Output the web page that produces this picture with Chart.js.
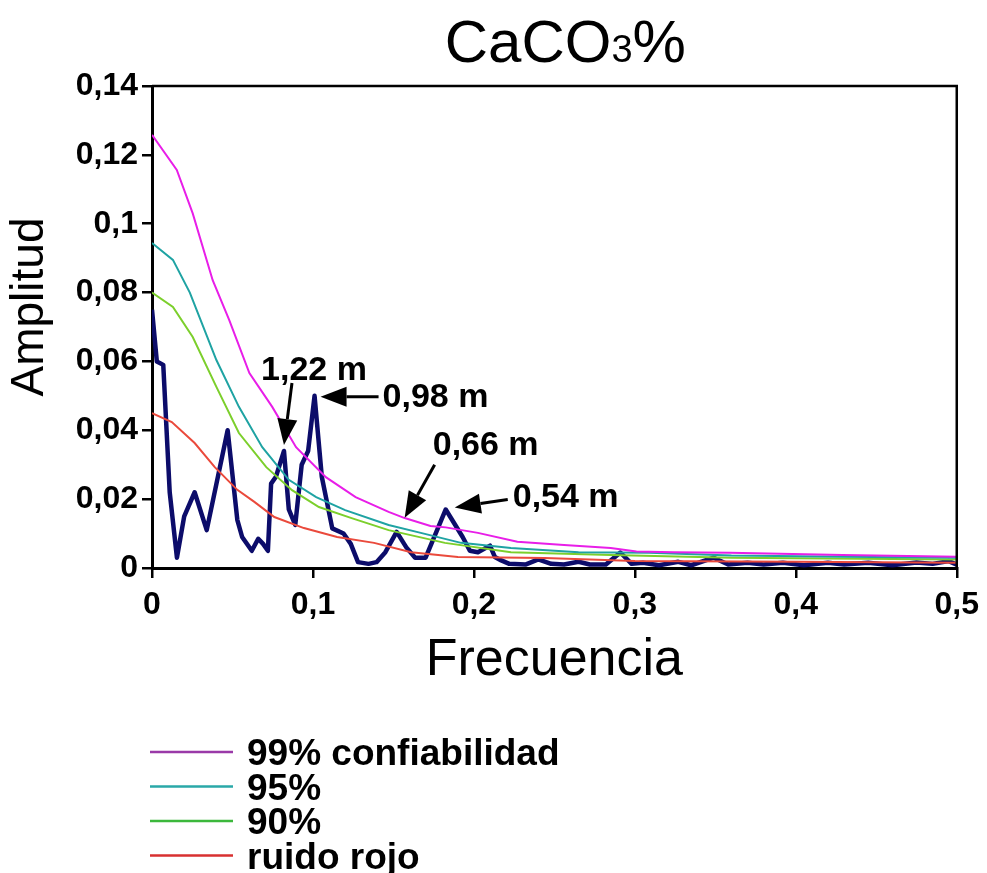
<!DOCTYPE html>
<html>
<head>
<meta charset="utf-8">
<script src="https://cdn.jsdelivr.net/npm/chart.js@4.4.1/dist/chart.umd.min.js"></script>
<style>
  html, body { margin: 0; padding: 0; background: #fff; }
  #wrap { width: 987px; height: 873px; }
</style>
</head>
<body>
<div id="wrap"><canvas id="specChart" width="987" height="873"></canvas></div>
<script>
// spectrum of CaCO3 %
const mainFreq = [0, 0.003, 0.007, 0.011, 0.0155, 0.020, 0.0265, 0.034, 0.047, 0.053, 0.056, 0.062,
  0.066, 0.069, 0.072, 0.074, 0.077, 0.082, 0.085, 0.089, 0.093, 0.097, 0.101, 0.1055, 0.112,
  0.119, 0.1235, 0.128, 0.1345, 0.1395, 0.145, 0.152, 0.158, 0.1635, 0.170, 0.1825, 0.193,
  0.1975, 0.2025, 0.210, 0.213, 0.217, 0.222, 0.232, 0.240, 0.248, 0.256, 0.265, 0.272, 0.282,
  0.291, 0.298, 0.305, 0.315, 0.327, 0.335, 0.349, 0.358, 0.370, 0.380, 0.392, 0.405, 0.420,
  0.430, 0.445, 0.460, 0.475, 0.485, 0.495, 0.500];
const mainAmp = [0.075, 0.060, 0.059, 0.022, 0.003, 0.015, 0.022, 0.011, 0.040, 0.014, 0.009, 0.005,
  0.0085, 0.007, 0.005, 0.0245, 0.0265, 0.034, 0.017, 0.0125, 0.030, 0.034, 0.050, 0.0265, 0.0115,
  0.010, 0.007, 0.0017, 0.0012, 0.0017, 0.0046, 0.0105, 0.006, 0.003, 0.003, 0.017, 0.009,
  0.005, 0.0046, 0.0065, 0.0032, 0.0022, 0.0012, 0.0010, 0.0025, 0.0012, 0.0010, 0.0018, 0.0010, 0.0010,
  0.0045, 0.0012, 0.0015, 0.0008, 0.0018, 0.0008, 0.0030, 0.0010, 0.0015, 0.0010, 0.0015, 0.0008, 0.0015,
  0.0010, 0.0015, 0.0008, 0.0016, 0.0012, 0.0020, 0.0010];

// confidence levels and red noise
const c99Freq = [0, 0.0154, 0.0253, 0.0377, 0.048, 0.0605, 0.0747, 0.0895, 0.108, 0.1265, 0.147, 0.157,
  0.173, 0.1825, 0.2025, 0.227, 0.256, 0.285, 0.301, 0.324, 0.359, 0.429, 0.5];
const c99Amp = [0.1258, 0.1156, 0.103, 0.0836, 0.072, 0.0566, 0.0468, 0.0351, 0.0264, 0.0206, 0.0163, 0.0145,
  0.0122, 0.0118, 0.0102, 0.0076, 0.0067, 0.0058, 0.0048, 0.0046, 0.0044, 0.0038, 0.0033];
const c95Freq = [0, 0.013, 0.0235, 0.040, 0.054, 0.0685, 0.085, 0.102, 0.120, 0.147, 0.167, 0.192,
  0.223, 0.265, 0.309, 0.36, 0.43, 0.5];
const c95Amp = [0.0944, 0.0895, 0.080, 0.0604, 0.0468, 0.0351, 0.0256, 0.0206, 0.0168, 0.0125, 0.0102, 0.0073,
  0.0058, 0.0046, 0.0044, 0.0036, 0.0033, 0.0030];
const c90Freq = [0, 0.013, 0.0253, 0.040, 0.054, 0.071, 0.087, 0.1037, 0.124, 0.147, 0.182, 0.223,
  0.285, 0.36, 0.5];
const c90Amp = [0.080, 0.0758, 0.0671, 0.0526, 0.0392, 0.0293, 0.0226, 0.0177, 0.0145, 0.011, 0.0073, 0.0046,
  0.0038, 0.0030, 0.0025];
const redFreq = [0, 0.0123, 0.0265, 0.039, 0.053, 0.0636, 0.076, 0.0944, 0.115, 0.138, 0.161, 0.190,
  0.244, 0.3, 0.4, 0.5];
const redAmp = [0.045, 0.0424, 0.0363, 0.0293, 0.0227, 0.0192, 0.0148, 0.0116, 0.009, 0.0073, 0.0046, 0.0032,
  0.0029, 0.0020, 0.0018, 0.0015];

const xTickLabels = ['0', '0,1', '0,2', '0,3', '0,4', '0,5'];
const yTickLabels = ['0', '0,02', '0,04', '0,06', '0,08', '0,1', '0,12', '0,14'];

// labelled peaks (periods in metres)
const peakLabels = ['1,22 m', '0,98 m', '0,66 m', '0,54 m'];
const peakFreq = [0.082, 0.101, 0.152, 0.1825];

const legendLabels = ['99% confiabilidad', '95%', '90%', 'ruido rojo'];
const legendColors = ['#9a3aa8', '#2aa8a8', '#3cb83c', '#d83030'];

const FONT = "'Liberation Sans', Arial, sans-serif";

function pts(xs, ys) {
  return xs.map((x, i) => ({ x: x, y: ys[i] }));
}

function drawArrow(ctx, x0, y0, x1, y1) {
  const ang = Math.atan2(y1 - y0, x1 - x0);
  const headLen = 26, headHalf = 10;
  const bx = x1 - headLen * Math.cos(ang);
  const by = y1 - headLen * Math.sin(ang);
  ctx.beginPath();
  ctx.moveTo(x0, y0);
  ctx.lineTo(bx, by);
  ctx.lineWidth = 3;
  ctx.stroke();
  ctx.beginPath();
  ctx.moveTo(x1, y1);
  ctx.lineTo(bx + headHalf * Math.sin(ang), by - headHalf * Math.cos(ang));
  ctx.lineTo(bx - headHalf * Math.sin(ang), by + headHalf * Math.cos(ang));
  ctx.closePath();
  ctx.fill();
}

// tip / tail / text offsets (px) from each peak
const peakLayout = [
  { tip: [0, -6], tail: [8, -68], text: [30, -80], align: 'center' },
  { tip: [6, 1], tail: [64, 1], text: [68, 2], align: 'left' },
  { tip: [8, -14], tail: [38, -67], text: [89, -86], align: 'center' },
  { tip: [9, -2], tail: [62, -10], text: [67, -12], align: 'left' }
];

const decorPlugin = {
  id: 'decor',
  afterDraw(chart) {
    const ctx = chart.ctx;
    const a = chart.chartArea;
    const xs = chart.scales.x, ys = chart.scales.y;
    ctx.save();

    // top and right frame
    ctx.strokeStyle = '#000';
    ctx.lineWidth = 2.5;
    ctx.beginPath();
    ctx.moveTo(a.left, a.top);
    ctx.lineTo(a.right, a.top);
    ctx.lineTo(a.right, a.bottom);
    ctx.stroke();

    // title with a small "3"
    ctx.fillStyle = '#000';
    ctx.textBaseline = 'alphabetic';
    ctx.textAlign = 'left';
    const big = '60px ' + FONT, small = '38px ' + FONT;
    ctx.font = big;
    const w1 = ctx.measureText('CaCO').width, w3 = ctx.measureText('%').width;
    ctx.font = small;
    const w2 = ctx.measureText('3').width;
    let tx = (a.left + a.right) / 2 + 11 - (w1 + w2 + w3) / 2;
    const ty = 62;
    ctx.font = big;
    ctx.fillText('CaCO', tx, ty);
    ctx.font = small;
    ctx.fillText('3', tx + w1, ty);
    ctx.font = big;
    ctx.fillText('%', tx + w1 + w2, ty);

    // y axis title, a little above the axis centre
    ctx.save();
    ctx.translate(30, (a.top + a.bottom) / 2 - 20);
    ctx.rotate(-Math.PI / 2);
    ctx.font = '46px ' + FONT;
    ctx.textAlign = 'center';
    ctx.textBaseline = 'middle';
    ctx.fillText('Amplitud', 0, 0);
    ctx.restore();

    // peak arrows
    ctx.fillStyle = '#000';
    ctx.strokeStyle = '#000';
    ctx.font = 'bold 34px ' + FONT;
    ctx.textBaseline = 'middle';
    peakLabels.forEach((lab, i) => {
      const k = mainFreq.indexOf(peakFreq[i]);
      const px = xs.getPixelForValue(mainFreq[k]);
      const py = ys.getPixelForValue(mainAmp[k]);
      const L = peakLayout[i];
      drawArrow(ctx, px + L.tail[0], py + L.tail[1], px + L.tip[0], py + L.tip[1]);
      ctx.textAlign = L.align;
      ctx.fillText(lab, px + L.text[0], py + L.text[1]);
    });

    // legend
    ctx.font = 'bold 37px ' + FONT;
    ctx.textAlign = 'left';
    ctx.textBaseline = 'middle';
    legendLabels.forEach((lab, i) => {
      const ly = 752 + i * 34.5;
      ctx.strokeStyle = legendColors[i];
      ctx.lineWidth = 2.5;
      ctx.beginPath();
      ctx.moveTo(150, ly);
      ctx.lineTo(233, ly);
      ctx.stroke();
      ctx.fillStyle = '#000';
      ctx.fillText(lab, 247, ly + 3);
    });
    ctx.restore();
  }
};

const ctx = document.getElementById('specChart').getContext('2d');
const specChart = new Chart(ctx, {
  type: 'line',
  data: {
    datasets: [
      { label: '99%', data: pts(c99Freq, c99Amp), borderColor: '#e81ee8', borderWidth: 2 },
      { label: '95%', data: pts(c95Freq, c95Amp), borderColor: '#1fa3a3', borderWidth: 2 },
      { label: '90%', data: pts(c90Freq, c90Amp), borderColor: '#7ccf2c', borderWidth: 2 },
      { label: 'ruido rojo', data: pts(redFreq, redAmp), borderColor: '#ea4a3c', borderWidth: 2 },
      { label: 'CaCO3%', data: pts(mainFreq, mainAmp), borderColor: '#0c0c6a', borderWidth: 4.5,
        borderJoinStyle: 'round' }
    ]
  },
  options: {
    responsive: false,
    devicePixelRatio: 1,
    animation: false,
    layout: { padding: { top: 86, right: 25, bottom: 173, left: 0 } },
    elements: { point: { radius: 0 }, line: { tension: 0, fill: false } },
    plugins: {
      legend: { display: false },
      tooltip: { enabled: false },
      title: { display: false }
    },
    scales: {
      x: {
        type: 'linear',
        min: 0,
        max: 0.5,
        afterFit: function(scale) { scale.height = 132; },
        border: { display: true, color: '#000', width: 3 },
        grid: { drawOnChartArea: false, color: '#000', lineWidth: 2.5, tickLength: 10 },
        ticks: {
          stepSize: 0.1,
          color: '#000',
          padding: 8,
          maxRotation: 0,
          autoSkip: false,
          font: { family: FONT, size: 32, weight: 'bold' },
          callback: function(value, index) { return xTickLabels[index]; }
        },
        title: {
          display: true,
          text: 'Frecuencia',
          color: '#000',
          padding: { top: 0, bottom: 8 },
          font: { family: FONT, size: 52 }
        }
      },
      y: {
        min: 0,
        max: 0.14,
        afterFit: function(scale) { scale.width = 152; },
        border: { display: true, color: '#000', width: 3 },
        grid: { drawOnChartArea: false, color: '#000', lineWidth: 2.5, tickLength: 10 },
        ticks: {
          stepSize: 0.02,
          color: '#000',
          padding: 4,
          autoSkip: false,
          font: { family: FONT, size: 32, weight: 'bold' },
          callback: function(value, index) { return yTickLabels[index]; }
        }
      }
    }
  },
  plugins: [decorPlugin]
});
</script>
</body>
</html>
